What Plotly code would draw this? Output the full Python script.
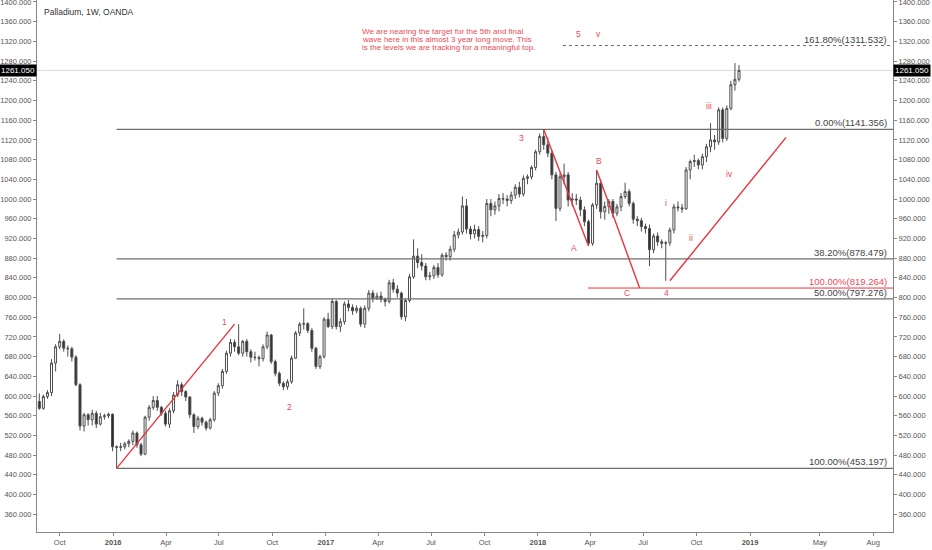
import pandas as pd
import plotly.graph_objects as go

# ---------------- data ----------------
dates = pd.date_range("2015-08-27", periods=173, freq="7D")

opens = [589,575,599,607,667,700,711,697,696,679,623,539,562,552,565,543,558,560,563,497,
         496,497,503,508,525,501,482,557,577,591,577,565,543,570,602,623,609,598,562,538,
         555,547,535,552,606,621,650,687,709,700,687,711,690,679,678,676,700,724,670,646,
         626,619,629,677,728,746,747,733,697,660,680,756,741,792,741,751,787,780,773,778,
         746,778,809,798,803,796,792,830,817,809,761,794,842,884,871,864,842,844,861,846,
         886,883,898,927,933,986,939,929,938,924,926,991,978,986,1001,1000,997,1008,1024,1010,
         1042,1045,1064,1096,1127,1110,1093,1049,981,1045,1049,998,1000,998,978,954,910,988,1032,974,
         985,995,971,984,1005,1015,991,959,956,944,940,897,925,913,910,911,937,984,982,980,
         1059,1076,1078,1069,1086,1106,1120,1116,1181,1123,1184,1232,1243]
highs = [605,603,612,675,705,726,715,703,700,683,626,566,565,572,570,566,564,566,565,500,
         505,507,512,530,528,505,560,582,600,600,580,570,575,608,632,628,612,600,565,560,
         558,550,556,610,626,655,692,716,715,746,714,716,695,690,682,705,731,726,674,650,
         630,634,682,732,750,778,750,738,700,684,760,769,798,795,758,792,795,786,784,782,
         784,815,815,810,812,800,836,838,825,812,798,848,918,900,888,870,852,866,870,890,
         892,905,935,940,1005,1000,945,948,945,935,1000,1000,995,1010,1012,1008,1015,1030,1035,1048,
         1050,1068,1100,1133,1141.356,1125,1098,1055,1052,1072,1055,1012,1010,1005,985,958,992,1059,1040,995,
         1000,1000,990,1012,1033,1020,995,965,962,950,948,930,932,918,915,942,990,995,990,1065,
         1080,1090,1082,1092,1112,1154,1130,1186,1186,1190,1240,1276,1272]
lows = [572,572,594,600,650,695,690,680,670,620,530,528,540,540,535,540,552,555,488,453.197,
        488,492,496,500,495,478,480,550,572,570,560,538,535,565,598,600,590,555,525,533,
        540,530,532,548,600,615,645,680,690,683,680,680,668,672,660,670,695,665,640,620,
        612,613,625,675,722,735,728,690,655,655,676,738,736,735,730,745,772,765,768,740,
        738,772,790,795,790,782,788,810,800,755,752,790,838,860,855,835,835,838,840,842,
        875,875,892,920,928,930,918,920,915,912,920,965,968,975,990,985,990,1000,1003,1005,
        1030,1040,1058,1090,1100,1085,1040,955,975,1030,985,985,988,965,945,904.5,905,980,960,958,
        970,962,965,975,1000,985,950,945,934,930,864,890,905,900,834,905,930,975,972,978,
        1040,1065,1060,1060,1075,1095,1100,1110,1115,1118,1180,1220,1238]
closes = [575,599,607,667,700,711,697,696,679,623,539,562,552,565,543,558,560,563,497,496,
          497,503,508,525,501,482,557,577,591,577,565,543,570,602,623,609,598,562,538,555,
          547,535,552,606,621,650,687,709,700,687,711,690,679,678,676,700,724,670,646,626,
          619,629,677,728,746,747,733,697,660,680,756,741,792,741,751,787,780,773,778,746,
          778,809,798,803,796,792,830,817,809,761,794,842,884,871,864,842,844,861,846,886,
          883,898,927,933,986,939,929,938,924,926,991,978,986,1001,1000,997,1008,1024,1010,1042,
          1045,1064,1096,1127,1110,1093,1049,981,1045,1049,998,1000,998,978,954,910,988,1032,974,985,
          995,971,984,1005,1015,991,959,956,944,940,897,925,913,910,911,937,984,982,980,1059,
          1076,1078,1069,1086,1106,1120,1116,1181,1123,1184,1232,1243,1261.05]

last_price = 1261.05

# fibonacci levels (grey, from the Jan-2016 low)
fib_levels = [1141.356, 878.479, 797.276, 453.197]
fib_labels = ["0.00%(1141.356)", "38.20%(878.479)", "50.00%(797.276)", "100.00%(453.197)"]
fib_start = "2016-01-07"
ext_level, ext_label, ext_start = 1311.532, "161.80%(1311.532)", "2018-02-13"
abc_level, abc_label, abc_start = 819.264, "100.00%(819.264)", "2018-03-28"

# red wave lines (start/end)
wave_lines = [
    (("2016-01-07", 453.197), ("2016-07-28", 746)),
    (("2018-01-11", 1141.356), ("2018-03-29", 904.5)),
    (("2018-04-12", 1059), ("2018-06-25", 819.264)),
    (("2018-08-16", 834), ("2019-03-04", 1125)),
]

# wave labels
wave_text = ["1", "2", "3", "A", "B", "C", "4", "5", "v", "i", "ii", "iii", "iv"]
wave_x = ["2016-07-11", "2016-10-30", "2017-12-03", "2018-03-04", "2018-04-16", "2018-06-04",
          "2018-08-11", "2018-03-11", "2018-04-15", "2018-08-09", "2018-09-21", "2018-10-22", "2018-11-26"]
wave_y = [749.8, 578.5, 1123.5, 900.7, 1077.4, 810, 810, 1334.6, 1334.6, 991.5, 921.6, 1189.6, 1051.6]

note_lines = ["We are nearing the target for the 5th and final",
              "wave here in this almost 3 year long move. This",
              "is the levels we are tracking for a meaningful top."]
note_x = "2017-03-02"
note_y = [1341.0, 1324.5, 1308.0]

tick_vals = ["2015-10-01", "2016-01-01", "2016-04-01", "2016-07-01", "2016-10-01", "2017-01-01",
             "2017-04-01", "2017-07-01", "2017-10-01", "2018-01-01", "2018-04-01", "2018-07-01",
             "2018-10-01", "2019-01-01", "2019-05-01", "2019-08-01"]
tick_text = ["Oct", "<b>2016</b>", "Apr", "Jul", "Oct", "<b>2017</b>", "Apr", "Jul", "Oct",
             "<b>2018</b>", "Apr", "Jul", "Oct", "<b>2019</b>", "May", "Aug"]
y_ticks = list(range(360, 1401, 40))

x_range = ["2015-08-23", "2019-09-04"]
y_range = [324, 1404]

RED = "#e8353d"
RED_TXT = "#ee4a55"
FONT = "Liberation Sans"

# ---------------- figure ----------------
fig = go.Figure()

# last price line
fig.add_shape(type="line", xref="paper", x0=0, x1=1, y0=last_price, y1=last_price,
              line=dict(color="#d9d9d9", width=1), layer="below")

fig.add_trace(go.Candlestick(
    x=dates, open=opens, high=highs, low=lows, close=closes,
    increasing=dict(line=dict(color="#4d4d4d", width=1), fillcolor="#ffffff"),
    decreasing=dict(line=dict(color="#4d4d4d", width=1), fillcolor="#2e2e2e"),
    whiskerwidth=0, showlegend=False, hoverinfo="skip",
))

# fib lines
for lvl, lab in zip(fib_levels, fib_labels):
    fig.add_trace(go.Scatter(x=[fib_start, x_range[1]], y=[lvl, lvl], mode="lines",
                             line=dict(color="#6e6e6e", width=1.2), showlegend=False, hoverinfo="skip"))
    fig.add_annotation(x=1, xref="paper", xanchor="right", xshift=-4, y=lvl, yanchor="bottom",
                       yshift=-1, text=lab, showarrow=False, font=dict(family=FONT, size=9.5, color="#444"))
fig.add_trace(go.Scatter(x=[ext_start, x_range[1]], y=[ext_level, ext_level], mode="lines",
                         line=dict(color="#666", width=1, dash="3px,3px"), showlegend=False, hoverinfo="skip"))
fig.add_annotation(x=1, xref="paper", xanchor="right", xshift=-4, y=ext_level, yanchor="bottom",
                   yshift=-1, text=ext_label, showarrow=False, font=dict(family=FONT, size=9.5, color="#444"))
fig.add_trace(go.Scatter(x=[abc_start, x_range[1]], y=[abc_level, abc_level], mode="lines",
                         line=dict(color=RED, width=1), showlegend=False, hoverinfo="skip"))
fig.add_annotation(x=1, xref="paper", xanchor="right", xshift=-4, y=abc_level, yanchor="bottom",
                   yshift=-1, text=abc_label, showarrow=False, font=dict(family=FONT, size=9.5, color=RED_TXT))

# wave lines
for (a, b) in wave_lines:
    fig.add_trace(go.Scatter(x=[a[0], b[0]], y=[a[1], b[1]], mode="lines",
                             line=dict(color=RED, width=1.4), showlegend=False, hoverinfo="skip"))

# wave labels
for t, xx, yy in zip(wave_text, wave_x, wave_y):
    fig.add_annotation(x=xx, y=yy, text=t, showarrow=False,
                       font=dict(family=FONT, size=8.5, color=RED_TXT))

for line, yy in zip(note_lines, note_y):
    fig.add_annotation(x=note_x, y=yy, xanchor="left", text=line, showarrow=False, borderpad=0,
                       font=dict(family=FONT, size=8, color=RED_TXT))

# title
fig.add_annotation(x=0, xref="paper", xanchor="left", xshift=5, y=1, yref="paper", yanchor="top",
                   yshift=-5, text="Palladium, 1W, OANDA", showarrow=False,
                   font=dict(family=FONT, size=8.5, color="#333"))

# price boxes
for side, anchor in [(0, "right"), (1, "left")]:
    fig.add_annotation(x=side, xref="paper", xanchor=anchor, y=last_price, text="1261.050",
                       showarrow=False, bgcolor="#000", borderpad=1,
                       font=dict(family=FONT, size=8, color="#fff"))

# dummy trace to activate right axis
fig.add_trace(go.Scatter(x=[dates[0]], y=[closes[0]], yaxis="y2", mode="markers",
                         marker=dict(opacity=0), showlegend=False, hoverinfo="skip"))

axis_font = dict(family=FONT, size=7.5, color="#555")
fig.update_layout(
    width=932, height=550,
    margin=dict(l=37, r=39, t=0, b=18, autoexpand=False),
    paper_bgcolor="white", plot_bgcolor="white",
    showlegend=False,
    xaxis=dict(range=x_range, type="date", rangeslider=dict(visible=False),
               tickvals=tick_vals, ticktext=tick_text, tickfont=axis_font,
               showgrid=False, zeroline=False, showline=True, linecolor="#888", linewidth=1,
               ticks="outside", ticklen=3, tickcolor="#888"),
    yaxis=dict(range=y_range, tickvals=y_ticks, tickformat=".3f", tickfont=axis_font,
               showgrid=False, zeroline=False, showline=True, linecolor="#888", linewidth=1,
               ticks="outside", ticklen=3, tickcolor="#888", side="left",
               ticklabeloverflow="allow"),
    yaxis2=dict(range=y_range, tickvals=y_ticks, tickformat=".3f", tickfont=axis_font,
                overlaying="y", side="right", showgrid=False, zeroline=False, showline=True,
                linecolor="#888", linewidth=1, ticks="outside", ticklen=3, tickcolor="#888",
                ticklabeloverflow="allow"),
)

fig.write_html("out.html", config={"displayModeBar": False},
               post_script="document.body.style.margin='0';")
